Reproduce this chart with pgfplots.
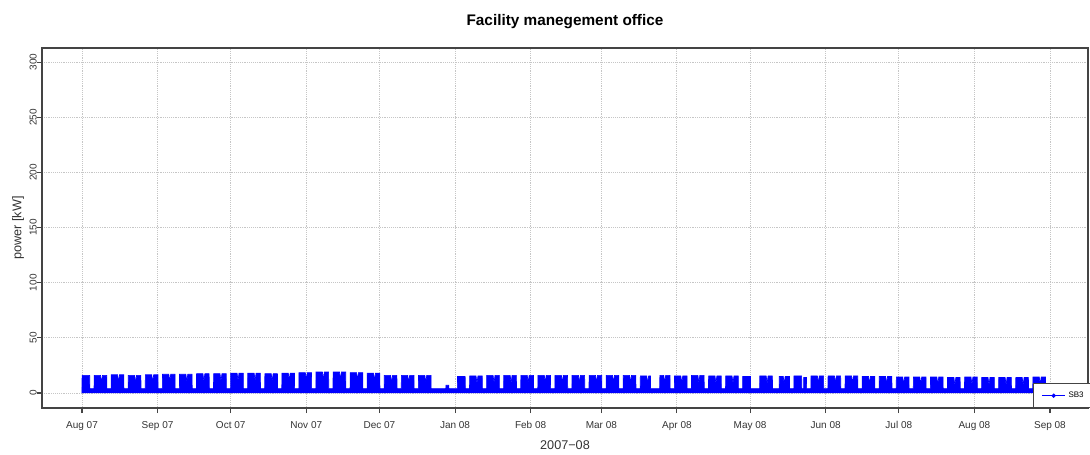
\documentclass[border=0pt]{standalone}
\usepackage{fontspec}
\setmainfont{Liberation Sans}
\usepackage{pgfplots}
\pgfplotsset{compat=1.18}

\definecolor{frame}{HTML}{444444}

\begin{document}
\begin{tikzpicture}
\begin{axis}[
    at={(31.5pt,34.5pt)}, anchor=south west,
    scale only axis,
    width=784.5pt, height=270pt,
    xmin=-16.4, xmax=412.6,
    ymin=-13.6, ymax=312.8,
    xtick={0,31,61,92,122,153,184,213,244,274,305,335,366,397},
    xticklabels={Aug 07,Sep 07,Oct 07,Nov 07,Dec 07,Jan 08,Feb 08,Mar 08,Apr 08,May 08,Jun 08,Jul 08,Aug 08,Sep 08},
    ytick={0,50,...,300},
    tick align=outside, tick pos=left,
    major tick length=3.75pt,
    every tick/.style={frame, line width=0.8pt},
    axis line style={frame, line width=1.1pt},
    grid=major,
    major grid style={densely dotted, gray!45, line width=0.7pt},
    /pgf/number format/assume math mode=true,
    ticklabel style={font=\fontsize{7.5}{9}\selectfont, text=black!80},
    xticklabel style={yshift=-2.5pt},
    yticklabel style={rotate=90, anchor=south, inner sep=0pt},
    every axis title shift=0pt,
    title={Facility manegement office},
    title style={font=\fontsize{11.5}{13}\selectfont\bfseries, at={(axis description cs:0.5,1.0722)}, anchor=center},
    xlabel={2007−08},
    xlabel style={font=\fontsize{9.5}{11}\selectfont, text=black!80, at={(axis description cs:0.5,-0.1028)}, anchor=center},
    ylabel={power [kW]},
    ylabel style={font=\fontsize{9.5}{11}\selectfont, text=black!80, at={(axis description cs:-0.0229,0.5)}, anchor=center},
    legend style={at={(rel axis cs:0.9474,0)}, anchor=south west,
        font=\fontsize{6}{7}\selectfont, draw=frame, line width=0.8pt,
        fill=white, inner ysep=4pt, inner xsep=6pt},
]
% weekday blocks of the load profile (day 0 = 1 Aug 2007)
\addplot[blue, fill=blue, line width=0.5pt, forget plot] coordinates {
(0,0) (0,4) (0.05,16) (3.15,16) (3.2,4)
(4.95,4)(5,16)(7.6,16)(8,9)(8.4,16)(10.15,16)(10.2,4)
(11.95,4)(12,16.5)(14.6,16.5)(15,9.5)(15.4,16.5)(17.15,16.5)(17.2,4)
(18.95,4)(19,16)(21.6,16)(22,9)(22.4,16)(24.15,16)(24.2,4)
(25.95,4)(26,16.5)(28.6,16.5)(29,9.5)(29.4,16.5)(31.15,16.5)(31.2,4)
(32.95,4)(33,17)(35.6,17)(36,10)(36.4,17)(38.15,17)(38.2,4)
(39.95,4)(40,17)(42.6,17)(43,10)(43.4,17)(45.15,17)(45.2,4)
(46.95,4)(47,17.5)(49.6,17.5)(50,10.5)(50.4,17.5)(52.15,17.5)(52.2,4)
(53.95,4)(54,17.5)(56.6,17.5)(57,10.5)(57.4,17.5)(59.15,17.5)(59.2,4)
(60.95,4)(61,18)(63.6,18)(64,11)(64.4,18)(66.15,18)(66.2,4)
(67.95,4)(68,18)(70.6,18)(71,11)(71.4,18)(73.15,18)(73.2,4)
(74.95,4)(75,17.5)(77.6,17.5)(78,10.5)(78.4,17.5)(80.15,17.5)(80.2,4)
(81.95,4)(82,18)(84.6,18)(85,11)(85.4,18)(87.15,18)(87.2,4)
(88.95,4)(89,18.5)(91.6,18.5)(92,11.5)(92.4,18.5)(94.15,18.5)(94.2,4)
(95.95,4)(96,19)(98.6,19)(99,12)(99.4,19)(101.15,19)(101.2,4)
(102.95,4)(103,19)(105.6,19)(106,12)(106.4,19)(108.15,19)(108.2,4)
(109.95,4)(110,18.5)(112.6,18.5)(113,11.5)(113.4,18.5)(115.15,18.5)(115.2,4)
(116.95,4)(117,18)(119.6,18)(120,11)(120.4,18)(122.15,18)(122.2,4)
(123.95,4)(124,16)(126.6,16)(127,9)(127.4,16)(129.15,16)(129.2,4)
(130.95,4)(131,16)(133.6,16)(134,9)(134.4,16)(136.15,16)(136.2,4)
(137.95,4)(138,16)(140.6,16)(141,9)(141.4,16)(143.15,16)(143.2,4)
(149.2,4)(149.3,7)(150.4,7)(150.5,4)
(153.95,4)(154,15)(157.15,15)(157.2,4)
(158.95,4)(159,15.5)(161.6,15.5)(162,8.5)(162.4,15.5)(164.15,15.5)(164.2,4)
(165.95,4)(166,16)(168.6,16)(169,9)(169.4,16)(171.15,16)(171.2,4)
(172.95,4)(173,16)(175.6,16)(176,9)(176.4,16)(178.15,16)(178.2,4)
(179.95,4)(180,16)(182.6,16)(183,9)(183.4,16)(185.15,16)(185.2,4)
(186.95,4)(187,16)(189.6,16)(190,9)(190.4,16)(192.15,16)(192.2,4)
(193.95,4)(194,16)(196.6,16)(197,9)(197.4,16)(199.15,16)(199.2,4)
(200.95,4)(201,16)(203.6,16)(204,9)(204.4,16)(206.15,16)(206.2,4)
(207.95,4)(208,16)(210.6,16)(211,9)(211.4,16)(213.15,16)(213.2,4)
(214.95,4)(215,16)(217.6,16)(218,9)(218.4,16)(220.15,16)(220.2,4)
(221.95,4)(222,16)(224.6,16)(225,9)(225.4,16)(227.15,16)(227.2,4)
(228.95,4)(229,15.5)(231.6,15.5)(232,8.5)(232.4,15.5)(233.15,15.5)(233.2,4)
(236.95,4)(237,16)(238.6,16)(239,9)(239.4,16)(241.15,16)(241.2,4)
(242.95,4)(243,15.5)(245.6,15.5)(246,8.5)(246.4,15.5)(248.15,15.5)(248.2,4)
(249.95,4)(250,16)(252.6,16)(253,9)(253.4,16)(255.15,16)(255.2,4)
(256.95,4)(257,15.5)(259.6,15.5)(260,8.5)(260.4,15.5)(262.15,15.5)(262.2,4)
(263.95,4)(264,15.5)(266.6,15.5)(267,8.5)(267.4,15.5)(269.15,15.5)(269.2,4)
(270.95,4)(271,15)(274.15,15)(274.2,4)
(277.95,4)(278,15.5)(280.6,15.5)(281,8.5)(281.4,15.5)(283.15,15.5)(283.2,4)
(285.95,4)(286,15)(287.6,15)(288,8)(288.4,15)(290.15,15)(290.2,4)
(291.95,4)(292,15.5)(295.15,15.5)(295.2,4)
(295.95,4)(296,14)(297.15,14)(297.2,4)
(298.95,4)(299,15.5)(301.6,15.5)(302,8.5)(302.4,15.5)(304.15,15.5)(304.2,4)
(305.95,4)(306,15.5)(308.6,15.5)(309,8.5)(309.4,15.5)(311.15,15.5)(311.2,4)
(312.95,4)(313,15.5)(315.6,15.5)(316,8.5)(316.4,15.5)(318.15,15.5)(318.2,4)
(319.95,4)(320,15)(322.6,15)(323,8)(323.4,15)(325.15,15)(325.2,4)
(326.95,4)(327,15)(329.6,15)(330,8)(330.4,15)(332.15,15)(332.2,4)
(333.95,4)(334,14.5)(336.6,14.5)(337,7.5)(337.4,14.5)(339.15,14.5)(339.2,4)
(340.95,4)(341,14.5)(343.6,14.5)(344,7.5)(344.4,14.5)(346.15,14.5)(346.2,4)
(347.95,4)(348,14.5)(350.6,14.5)(351,7.5)(351.4,14.5)(353.15,14.5)(353.2,4)
(354.95,4)(355,14)(357.6,14)(358,7)(358.4,14)(360.15,14)(360.2,4)
(361.95,4)(362,14.5)(364.6,14.5)(365,7.5)(365.4,14.5)(367.15,14.5)(367.2,4)
(368.95,4)(369,14)(371.6,14)(372,7)(372.4,14)(374.15,14)(374.2,4)
(375.95,4)(376,14)(378.6,14)(379,7)(379.4,14)(381.15,14)(381.2,4)
(382.95,4)(383,14)(385.6,14)(386,7)(386.4,14)(388.15,14)(388.2,4)
(389.95,4)(390,14.5)(392.6,14.5)(393,7.5)(393.4,14.5)(395.15,14.5)(395.2,4)
(395.3,4) (395.3,0)
};
\addlegendimage{blue, line width=1.2pt, mark=*, mark size=0.9pt}
\addlegendentry{SB3}
\end{axis}
\pgfresetboundingbox
\path[use as bounding box] (0,0) rectangle (817.5pt,340.5pt);
\end{tikzpicture}
\end{document}
